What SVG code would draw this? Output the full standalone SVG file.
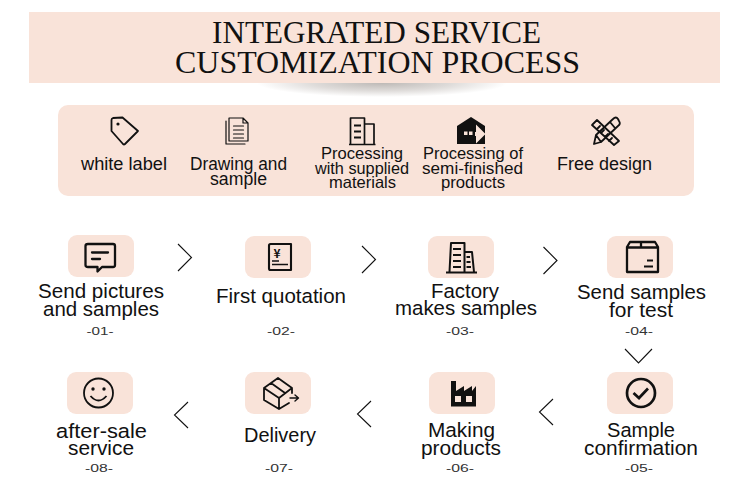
<svg xmlns="http://www.w3.org/2000/svg" width="750" height="497" viewBox="0 0 750 497">
<defs>
<radialGradient id="sh" cx="0.5" cy="0.5" r="0.5">
<stop offset="0" stop-color="#bdb9b6"/><stop offset="0.55" stop-color="#dedbd9"/><stop offset="1" stop-color="#ffffff"/>
</radialGradient>
<path id="chev" d="M0 0L13.500 13.500L0 27" fill="none" stroke="#111" stroke-width="1.100"/>
</defs>
<style>
.t{font-family:"Liberation Sans",Arial,sans-serif;fill:#111;text-anchor:middle}
.m{font-size:20.500px}
.p{font-size:17.500px}
.s{font-size:16.500px}
.n{font-size:11.500px;fill:#333}
.h{font-family:"Liberation Serif","Times New Roman",serif;font-size:32px;fill:#111;text-anchor:middle}
.tile{fill:#f9e3d9}
.i{fill:none;stroke:#111;stroke-width:1.800;stroke-linejoin:round;stroke-linecap:round}
.b{fill:none;stroke:#111;stroke-width:2.300;stroke-linejoin:round;stroke-linecap:round}
</style>
<rect width="750" height="497" fill="#fff"/>
<g id="header">
<ellipse cx="382" cy="83" rx="125" ry="14" fill="url(#sh)"/>
<rect x="29" y="12" width="691" height="71" fill="#f9e3d9"/>
<text class="h" x="376.500" y="43" textLength="329" lengthAdjust="spacingAndGlyphs">INTEGRATED SERVICE</text>
<text class="h" x="377.500" y="73" textLength="405" lengthAdjust="spacingAndGlyphs">CUSTOMIZATION PROCESS</text>
</g>
<rect id="panel" x="58" y="105" width="636" height="91" rx="10" fill="#f9e3d9"/>
<g id="f1">
<path class="i" d="M113 118L122.500 117.500L138 131L125 144Q124 145 123 144L111.500 131L111.500 120Q111.500 118.500 113 118Z"/>
<circle cx="118" cy="124" r="1.600" fill="#111"/>
<text class="t p" x="124" y="170" textLength="86" lengthAdjust="spacingAndGlyphs">white label</text>
</g>
<g id="f2">
<path class="i" style="stroke-width:1.200" d="M229 118H243L248 123V141H229ZM243 118V123H248M226 121V144H245M233.500 126H243.500M233.500 130H243.500M233.500 134H243.500M233.500 138H243.500"/>
<text class="t p" x="238.500" y="170" textLength="97" lengthAdjust="spacingAndGlyphs">Drawing and</text>
<text class="t p" x="238.500" y="185" textLength="57" lengthAdjust="spacingAndGlyphs">sample</text>
</g>
<g id="f3">
<path class="i" style="stroke-width:1.700;stroke-linecap:butt" d="M350.500 144V118H364.500V144M364.500 124H374V144M349 144.500H375.500"/>
<path class="i" style="stroke-width:2.200;stroke-linecap:butt" d="M354 125.500H361M354 131.500H361M354 137.500H361"/>
<text class="t s" x="362" y="159" textLength="82" lengthAdjust="spacingAndGlyphs">Processing</text>
<text class="t s" x="362" y="173.500" textLength="94" lengthAdjust="spacingAndGlyphs">with supplied</text>
<text class="t s" x="362.500" y="188" textLength="67" lengthAdjust="spacingAndGlyphs">materials</text>
</g>
<g id="f4">
<path d="M457 126L471 117L485 126V144H457Z" fill="#111"/>
<path d="M476 124.500L485.500 134L476 143.500V136H475V132H476Z" fill="#f9e3d9"/>
<path d="M464 131.500h3.500v3.500h-3.500zM469 131.500h3.500v3.500h-3.500z" fill="#f9e3d9"/>
<text class="t s" x="473" y="159" textLength="100" lengthAdjust="spacingAndGlyphs">Processing of</text>
<text class="t s" x="472.500" y="173.500" textLength="101" lengthAdjust="spacingAndGlyphs">semi-finished</text>
<text class="t s" x="473" y="188" textLength="64" lengthAdjust="spacingAndGlyphs">products</text>
</g>
<g id="f5">
<path class="i" d="M592 125L597 120L619 141L614 145ZM597 129L600 126M601 133L604 130M605 137L608 134M609 141L612 138"/>
<path class="i" d="M594 144L596 135L613 119Q616 116 618 119L619 121Q621 124 618 126L601 142ZM596 135L601 142M610 122L615 128"/>
<text class="t p" x="604.500" y="170" textLength="95" lengthAdjust="spacingAndGlyphs">Free design</text>
</g>
<g id="s1">
<rect class="tile" x="68" y="235" width="66" height="42" rx="9"/>
<path class="b" d="M88 244H113Q115 244 115 246V265Q115 267 113 267H102L97.500 271.500V267H88Q85.500 267 85.500 265V246Q85.500 244 88 244Z"/>
<path class="b" d="M92 252.500H108M92 259H100"/>
<text class="t m" x="101" y="298" textLength="126" lengthAdjust="spacingAndGlyphs">Send pictures</text>
<text class="t m" x="101" y="316" textLength="116" lengthAdjust="spacingAndGlyphs">and samples</text>
<text class="t n" x="100" y="335" textLength="27" lengthAdjust="spacingAndGlyphs">-01-</text>
</g>
<g id="s2">
<rect class="tile" x="245" y="236" width="66" height="42" rx="9"/>
<path class="b" style="stroke-width:2.100" d="M270.500 244H291V270H270.500Q269 270 269 268.500V245.500Q269 244 270.500 244Z"/>
<path class="b" style="stroke-width:1.600;stroke-linecap:butt" d="M272 264.500H288M272 261H279"/>
<text x="277" y="258" font-family="Noto Sans CJK SC,sans-serif" font-size="12" font-weight="700" text-anchor="middle" fill="#111">¥</text>
<text class="t m" x="281" y="303" textLength="130" lengthAdjust="spacingAndGlyphs">First quotation</text>
<text class="t n" x="281" y="335" textLength="28" lengthAdjust="spacingAndGlyphs">-02-</text>
</g>
<g id="s3">
<rect class="tile" x="428" y="236" width="66" height="42" rx="9"/>
<path class="i" style="stroke-width:2;stroke-linecap:butt" d="M449.500 272L451 243H464.500V272M464.500 252H472L474 272M446 272.500H477"/>
<path class="i" style="stroke-width:2;stroke-linecap:butt" d="M453 249H461M453 255H461M453 261H461M453 267H461M466.500 257H470M466.500 262H470.500M466.500 267H471"/>
<text class="t m" x="465" y="298" textLength="68" lengthAdjust="spacingAndGlyphs">Factory</text>
<text class="t m" x="466" y="315" textLength="142" lengthAdjust="spacingAndGlyphs">makes samples</text>
<text class="t n" x="460" y="335" textLength="28" lengthAdjust="spacingAndGlyphs">-03-</text>
</g>
<g id="s4">
<rect class="tile" x="607" y="236" width="66" height="42" rx="9"/>
<path class="b" d="M630 242H655L658 247V272H627V247ZM627 247.500H658M641 242V247.500"/>
<path class="b" style="stroke-width:2.200;stroke-linecap:butt" d="M647 260.500H653M644 266.500H653"/>
<text class="t m" x="641.500" y="299" textLength="129" lengthAdjust="spacingAndGlyphs">Send samples</text>
<text class="t m" x="641" y="317" textLength="64" lengthAdjust="spacingAndGlyphs">for test</text>
<text class="t n" x="639" y="335" textLength="28" lengthAdjust="spacingAndGlyphs">-04-</text>
</g>
<g id="s5">
<rect class="tile" x="607" y="372" width="66" height="42" rx="9"/>
<circle cx="641" cy="393" r="14" fill="none" stroke="#111" stroke-width="2.700"/>
<path d="M633.500 393L639 398L648 388.500" fill="none" stroke="#111" stroke-width="2.700"/>
<text class="t m" x="641" y="437" textLength="68" lengthAdjust="spacingAndGlyphs">Sample</text>
<text class="t m" x="641" y="455" textLength="114" lengthAdjust="spacingAndGlyphs">confirmation</text>
<text class="t n" x="639" y="472" textLength="28" lengthAdjust="spacingAndGlyphs">-05-</text>
</g>
<g id="s6">
<rect class="tile" x="429" y="372" width="66" height="42" rx="9"/>
<path fill-rule="evenodd" fill="#111" d="M451 381H456V391L464 386V391L472 386V391L476 386V406.500H451ZM455 396V402H461V396ZM466 396V402H472V396Z"/>
<text class="t m" x="461.500" y="437" textLength="67" lengthAdjust="spacingAndGlyphs">Making</text>
<text class="t m" x="461" y="455" textLength="80" lengthAdjust="spacingAndGlyphs">products</text>
<text class="t n" x="460" y="472" textLength="28" lengthAdjust="spacingAndGlyphs">-06-</text>
</g>
<g id="s7">
<rect class="tile" x="245" y="372" width="66" height="42" rx="9"/>
<path class="i" d="M264 388L278 378L292 388V393M264 388L279 398V409M264 388V400L279 409L289 403M279 398L292 388M271 383L285 393"/>
<path class="i" style="stroke-width:1.400" d="M290 398H298M295 395L298.500 398L295 401"/>
<text class="t m" x="280" y="442" textLength="72" lengthAdjust="spacingAndGlyphs">Delivery</text>
<text class="t n" x="279" y="472" textLength="28" lengthAdjust="spacingAndGlyphs">-07-</text>
</g>
<g id="s8">
<rect class="tile" x="67" y="372" width="66" height="42" rx="9"/>
<circle cx="98.500" cy="393" r="14.500" fill="none" stroke="#111" stroke-width="1.800"/>
<circle cx="93" cy="389" r="1.700" fill="#111"/><circle cx="104" cy="389" r="1.700" fill="#111"/>
<path d="M90.500 396Q98.500 405 106.500 396" fill="none" stroke="#111" stroke-width="1.800"/>
<text class="t m" x="101.500" y="438" textLength="91" lengthAdjust="spacingAndGlyphs">after-sale</text>
<text class="t m" x="101" y="455" textLength="66" lengthAdjust="spacingAndGlyphs">service</text>
<text class="t n" x="99" y="472" textLength="28" lengthAdjust="spacingAndGlyphs">-08-</text>
</g>
<g id="connectors">
<use href="#chev" x="178" y="244"/>
<use href="#chev" x="362" y="246"/>
<use href="#chev" x="543.500" y="247"/>
<path d="M625 349L638.500 363L652 349" fill="none" stroke="#111" stroke-width="1.100"/>
<path d="M553 399L539.500 412L553 425" fill="none" stroke="#111" stroke-width="1.100"/>
<path d="M371 401L357.500 414L371 427" fill="none" stroke="#111" stroke-width="1.100"/>
<path d="M188 402L174.500 415L188 428" fill="none" stroke="#111" stroke-width="1.100"/>
</g>
</svg>
